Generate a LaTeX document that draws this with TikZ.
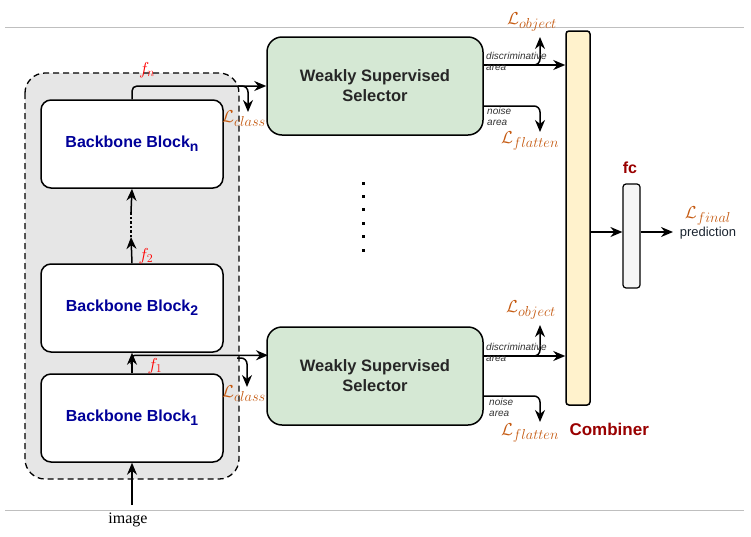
\documentclass[tikz,border=0pt]{standalone}
\usepackage{fontspec}
\setmainfont{Liberation Sans}
\newfontfamily\imgfont{Liberation Serif}
\usetikzlibrary{arrows.meta, positioning}

\DeclareMathSizes{17}{17}{13.5}{10}
\DeclareMathSizes{16}{16}{12.5}{10}

\definecolor{bbblue}{HTML}{000099}
\definecolor{lossorange}{HTML}{C55A11}
\definecolor{selgreen}{HTML}{D5E8D4}
\definecolor{combyellow}{HTML}{FFF2CC}
\definecolor{fcgray}{HTML}{F5F5F5}
\definecolor{darkred}{HTML}{990000}
\definecolor{boxgray}{HTML}{E6E6E6}
\definecolor{predtext}{HTML}{1A2430}

\newcommand{\blk}[1]{Backbone Block\raisebox{-4pt}{\fontsize{14}{16}\selectfont #1}}

\tikzset{
  block/.style={draw, line width=1.5pt, rounded corners=10pt, fill=white,
    minimum width=182pt, minimum height=88pt, text=bbblue,
    font=\fontsize{16}{19}\selectfont\bfseries},
  selector/.style={draw, line width=1.5pt, rounded corners=15pt, fill=selgreen,
    minimum width=216pt, minimum height=98pt, align=center, text=black!85,
    font=\fontsize{16.5}{20}\selectfont\bfseries},
  arr/.style={line width=1.5pt, -{Stealth[length=12pt, width=10pt]}},
  loss/.style={text=lossorange, font=\fontsize{17}{20}\selectfont, inner sep=0pt},
  feat/.style={text=red, font=\fontsize{16}{19}\selectfont, inner sep=0pt},
  smalltxt/.style={font=\fontsize{10}{11}\selectfont\itshape, align=left,
    inner sep=0pt, anchor=north west, text=black!80},
  head/.style={text=darkred, font=\fontsize{17}{20}\selectfont\bfseries}
}

\begin{document}
\begin{tikzpicture}[x=1pt, y=-1pt]
  \useasboundingbox (0,0) rectangle (751,536);

  % page rules
  \draw[black!25, line width=1pt] (5,27) -- (744,27);
  \draw[black!25, line width=1pt] (5,510) -- (744,510);

  % backbone
  \draw[dash pattern=on 6pt off 4pt, line width=1.3pt, fill=boxgray, rounded corners=20pt] (25,73) rectangle (239,479);
  \node[block] (bn) at (132,144) {\blk{n}};
  \node[block] (b2) at (132,308) {\blk{2}};
  \node[block] (b1) at (132,418) {\blk{1}};

  \node[font=\fontsize{16}{19}\imgfont, inner sep=1pt, anchor=north] (img) at (128,512) {image};
  \draw[arr, shorten <=7pt] (img.north -| b1.south) -- (b1.south);

  % b1 -> b2 and f1
  \draw[arr] (b1.north) -- (b2.south);
  \coordinate (f1) at (131,364);
  \coordinate (lc1end) at (247,387);
  \draw[arr, rounded corners=4pt] (f1) |- ([yshift=18pt]b1.north -| 268,0);
  \draw[arr, rounded corners=6pt] (237,358) -| (lc1end);
  \node[feat] (f1lab) at (155,366) {$f_1$};
  \node[loss] (lc1) at (244,394) {$\mathcal{L}_{class}$};

  % b2 -> ... -> bn
  \coordinate (dotlo) at (131,237);
  \coordinate (dothi) at (131,212);
  \draw[arr] (b2.north) -- (dotlo);
  \draw[dotted, line width=2.5pt] (dotlo) -- (dothi);
  \draw[arr] (dothi) -- (bn.south);
  \node[feat] (f2lab) at (146,256) {$f_2$};

  % selectors
  \node[selector] (sel1) at (375,86) {Weakly Supervised\\Selector};
  \node[selector] (sel2) at (375,376) {Weakly Supervised\\Selector};

  % bn -> sel1 and fn
  \draw[arr, rounded corners=5pt] (bn.north) |- (sel1.west);
  \coordinate (lcnend) at (248,112);
  \draw[arr, rounded corners=6pt] (238,86) -| (lcnend);
  \node[feat] (fnlab) at (147,70) {$f_n$};
  \node[loss] (lcn) at (244,119) {$\mathcal{L}_{class}$};

  % vertical dots
  \foreach \k in {0,...,5}
    \fill (361.5,181.5+13.4*\k) rectangle ++(3,3);

  % combiner and fc
  \node[draw, line width=1.5pt, rounded corners=3pt, fill=combyellow,
    minimum width=24pt, minimum height=374pt, inner sep=0pt] (comb) at (578,218) {};
  \node[head, anchor=north west] (combl) at (566,420) {Combiner};
  \node[draw, line width=1.2pt, rounded corners=3pt, fill=fcgray,
    minimum width=17pt, minimum height=104pt, inner sep=0pt] (fc) at (631.5,236) {};
  \node[head, font=\fontsize{16}{19}\selectfont\bfseries] (fcl) at (630,168) {fc};
  \draw[arr] (comb.east |- 0,232) -- (fc.west |- 0,232);
  \coordinate (predend) at (673,232);
  \draw[arr] (fc.east |- 0,232) -- (predend);
  \node[loss] (lfin) at (708,216) {$\mathcal{L}_{final}$};
  \node[font=\fontsize{13}{16}\selectfont, text=predtext, inner sep=0pt] (pred) at (708,233) {prediction};

  % selector 1 outputs
  \draw[arr] ([yshift=21pt]sel1.east) -- ([yshift=21pt]sel1.east -| comb.west);
  \coordinate (lo1end) at (540,37);
  \draw[arr, rounded corners=6pt] (528,65) -| (lo1end);
  \node[loss] (lo1) at (532,22) {$\mathcal{L}_{object}$};
  \node[smalltxt] (d1) at (486,52) {discriminative\\area};
  \coordinate (lf1end) at (540,132);
  \draw[arr, rounded corners=6pt] ([yshift=-20pt]sel1.east) -| (lf1end);
  \node[smalltxt] (n1) at (487,107) {noise\\area};
  \node[loss] (lf1) at (530,141) {$\mathcal{L}_{flatten}$};

  % selector 2 outputs
  \draw[arr] ([yshift=20pt]sel2.east) -- ([yshift=20pt]sel2.east -| comb.west);
  \coordinate (lo2end) at (540,325);
  \draw[arr, rounded corners=6pt] (528,356) -| (lo2end);
  \node[loss] (lo2) at (531,310) {$\mathcal{L}_{object}$};
  \node[smalltxt] (d2) at (486,343) {discriminative\\area};
  \coordinate (lf2end) at (540,422);
  \draw[arr, rounded corners=6pt] ([yshift=-20pt]sel2.east) -| (lf2end);
  \node[smalltxt] (n2) at (489,398) {noise\\area};
  \node[loss] (lf2) at (530,433) {$\mathcal{L}_{flatten}$};
\end{tikzpicture}
\end{document}
